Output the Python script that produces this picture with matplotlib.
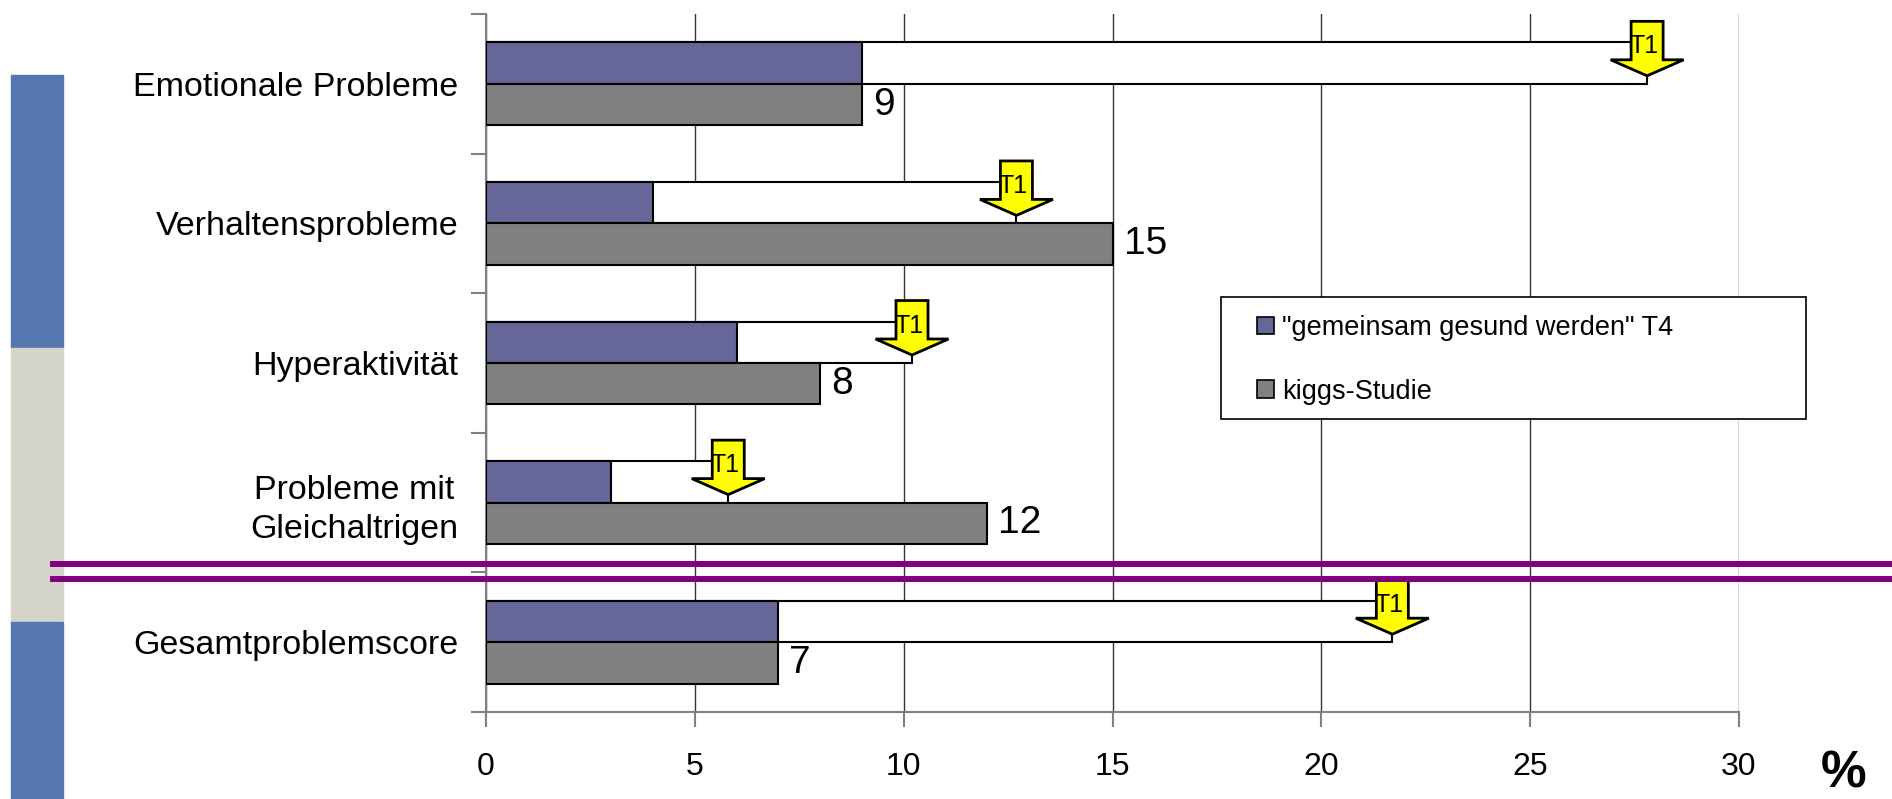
import matplotlib
matplotlib.use('Agg')
import matplotlib.pyplot as plt
from matplotlib.patches import Patch, Rectangle
from matplotlib.lines import Line2D
import numpy as np

plt.rcParams['font.family'] = ['Liberation Sans', 'DejaVu Sans']

# --- DADOS ---
kategorien = ['Emotionale Probleme', 'Verhaltensprobleme', 'Hyperaktivität',
              'Probleme mit\nGleichaltrigen', 'Gesamtproblemscore']
werte_t4 = [9, 4, 6, 3, 7]            # "gemeinsam gesund werden" T4
werte_kiggs = [9, 15, 8, 12, 7]       # kiggs-Studie
werte_t1 = [27.8, 12.7, 10.2, 5.8, 21.7]  # Ausgangswert T1 (Pfeil)
x_ticks = [0, 5, 10, 15, 20, 25, 30]

# --- FARBEN ---
farbe_t4 = '#666699'
farbe_kiggs = '#808080'
farbe_pfeil = '#FFFF00'
farbe_streifen_blau = '#5477AD'
farbe_streifen_beige = '#D4D4C8'
farbe_linie = '#800080'

W, H = 1892, 799
fig = plt.figure(figsize=(W / 100, H / 100), dpi=100)
ax = fig.add_axes([486 / W, 1 - 712 / H, (1739 - 486) / W, 698 / H])

y = np.arange(len(kategorien))
h = 0.297

# T1-Balken (weiß) hinter den T4-Balken
ax.barh(y - h / 2, werte_t1, height=h, color='white', edgecolor='black', linewidth=1.5, zorder=2)
ax.barh(y - h / 2, werte_t4, height=h, color=farbe_t4, edgecolor='black', linewidth=1.5, zorder=3)
ax.barh(y + h / 2, werte_kiggs, height=h, color=farbe_kiggs, edgecolor='black', linewidth=1.5, zorder=3)

# Werte an den kiggs-Balken
for i, v in enumerate(werte_kiggs):
    ax.annotate(f'{v}', xy=(v, i + h / 2), xytext=(8, 0), textcoords='offset points',
                va='center', ha='left', fontsize=28, zorder=5)

# Gelbe Pfeile mit "T1" am Ende der weißen Balken
px_x = (1739 - 486) / 30.0
px_y = 698 / 5.0
for i, t in enumerate(werte_t1):
    oben = i - h - 21 / px_y
    spitze = i - 8 / px_y
    kopf = spitze - 16 / px_y
    sw = 16 / px_x
    kw = 36.5 / px_x
    xs = [t - sw, t + sw, t + sw, t + kw, t, t - kw, t - sw]
    ys = [oben, oben, kopf, kopf, spitze, kopf, kopf]
    ax.fill(xs, ys, facecolor=farbe_pfeil, edgecolor='black', linewidth=2, zorder=6,
            joinstyle='miter')
    ax.text(t - 0.07, oben + 25 / px_y, 'T1', ha='center', va='center', fontsize=18, zorder=7)

ax.set_xlim(0, 30)
ax.set_ylim(len(kategorien) - 0.5, -0.5)
ax.set_xticks(x_ticks)
ax.set_xticklabels([str(t) for t in x_ticks], fontsize=23)
ax.tick_params(axis='x', length=11, width=1.5, color='#808080', pad=18)

# Y-Ticks an den Grenzen, Beschriftung in der Mitte
ax.set_yticks(np.arange(len(kategorien) + 1) - 0.5)
ax.set_yticklabels([])
ax.tick_params(axis='y', which='major', length=11, width=1.5, color='#808080')
ax.set_yticks(y, minor=True)
ax.set_yticklabels(kategorien, minor=True, fontsize=24.5, multialignment='center',
                   linespacing=1.35)
ax.tick_params(axis='y', which='minor', length=0, pad=20)

ax.xaxis.grid(True, color='#333333', linewidth=1, zorder=0)
ax.set_axisbelow(True)
for s in ['top', 'right']:
    ax.spines[s].set_visible(False)
for s in ['left', 'bottom']:
    ax.spines[s].set_color('#808080')
    ax.spines[s].set_linewidth(1.5)

# Legende (Rahmen separat, breiter als der Inhalt)
fig.patches.append(Rectangle((1221 / W, 1 - 419 / H), (1806 - 1221) / W, (419 - 297) / H,
                             transform=fig.transFigure, facecolor='white',
                             edgecolor='black', linewidth=1.2, zorder=8))
handles = [Patch(facecolor=farbe_t4, edgecolor='black', linewidth=1.2),
           Patch(facecolor=farbe_kiggs, edgecolor='black', linewidth=1.2)]
leg = fig.legend(handles, ['"gemeinsam gesund werden" T4', 'kiggs-Studie'],
                 loc='center left', bbox_to_anchor=(1257 / W, 1 - 360 / H),
                 fontsize=19.5, frameon=False,
                 handlelength=0.64, handleheight=0.64, handletextpad=0.3,
                 labelspacing=1.4, borderpad=0, borderaxespad=0)
leg.set_zorder(9)

# Farbstreifen links
fig.patches.append(Rectangle((11 / W, 1 - 348 / H), 52 / W, 273 / H,
                             transform=fig.transFigure, color=farbe_streifen_blau, zorder=0))
fig.patches.append(Rectangle((11 / W, 1 - 622 / H), 52 / W, 274 / H,
                             transform=fig.transFigure, color=farbe_streifen_beige, zorder=0))
fig.patches.append(Rectangle((11 / W, 0), 52 / W, 1 - 622 / H,
                             transform=fig.transFigure, color=farbe_streifen_blau, zorder=0))

# Doppelte lila Trennlinie
for yy in [564, 579]:
    fig.add_artist(Line2D([53 / W, 1], [1 - yy / H, 1 - yy / H], transform=fig.transFigure,
                          color=farbe_linie, linewidth=4.3, zorder=10))

fig.text(1844 / W, 1 - 788 / H, '%', ha='center', va='baseline', fontsize=37, fontweight='bold')

fig.savefig('out.png', dpi=100)
